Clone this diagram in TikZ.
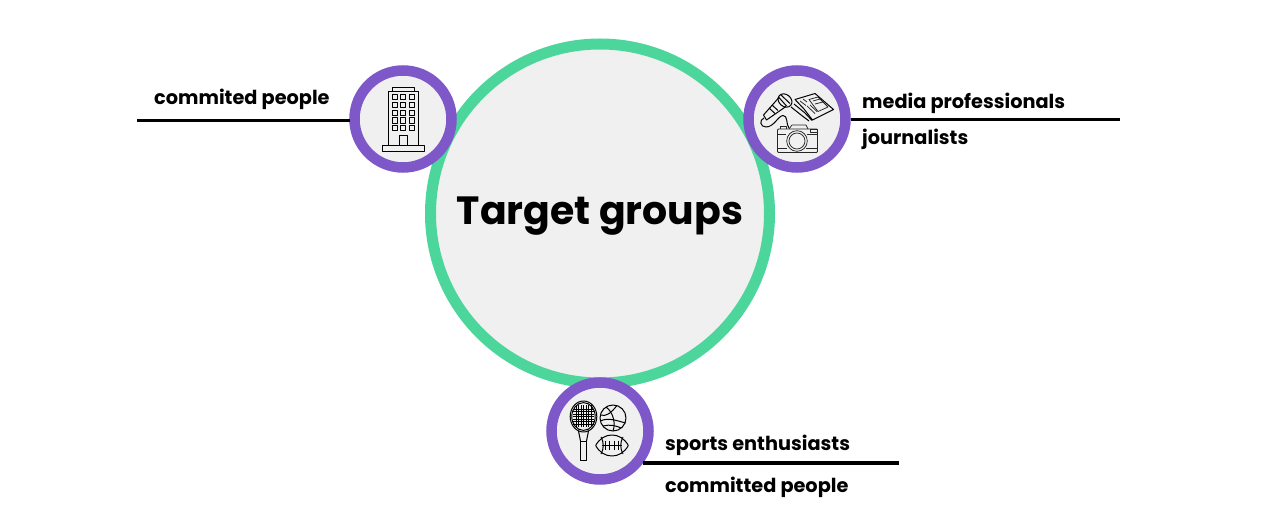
\documentclass[tikz,border=0pt]{standalone}
\usepackage{fontspec}
\setmainfont{Poppins}
\definecolor{mint}{HTML}{4CD69B}
\definecolor{violet}{HTML}{7E57C8}
\definecolor{pale}{HTML}{F0F0F0}
\usetikzlibrary{calc,positioning}
\tikzset{
  hub/.style={circle,draw=mint,fill=pale,line width=11pt,minimum size=339pt,inner sep=0pt,outer sep=0pt,font=\fontsize{39.4}{39.4}\selectfont\bfseries},
  badge/.style={circle,draw=violet,fill=pale,line width=10.5pt,minimum size=97pt,inner sep=0pt,outer sep=5pt},
  tag/.style={anchor=base west,inner sep=0pt,font=\fontsize{19.3}{19.3}\selectfont\bfseries},
  rule/.style={draw=black,line width=3.7pt},
  icon/.style={draw=black,line width=1pt,line join=round},
  fine/.style={draw=black!85,line width=0.75pt,line join=round},
}
\begin{document}
\begin{tikzpicture}[x=1pt,y=-1pt]
    \useasboundingbox (0,0) rectangle (1280,510);

    \node[hub] (target) at (600,213.5) {\raisebox{-11.5pt}[0pt][0pt]{Target groups}};

    \coordinate (leftend) at (137,120.5);
    \coordinate (rightend) at (1120,119.5);
    \coordinate (bottomend) at (899,463);

    \node[badge] (office) at (403,119) {};
    \node[badge] (media) at (797,119) {};
    \node[badge] (sports) at (600,431) {};

    \draw[rule] (leftend) -- (office.west |- leftend);
    \draw[rule] (media.east |- rightend) -- (rightend);
    \draw[rule] (sports.-36 |- bottomend) -- (bottomend);

    \node[tag] (commited) at (154,104.5) {commited people};
    \node[tag] (prof) at (862,108.5) {media professionals};
    \node[tag] (journ) at (862,144.5) {journalists};
    \node[tag] (enth) at (665,450) {sports enthusiasts};
    \node[tag] (committed) at (665,492) {committed people};

    % building
    \draw[icon] (392,91.5) rectangle (414,87.5);
    \draw[icon] (388,146) rectangle (418,91.5);
    \draw[icon] (382,146) rectangle (424,151.5);
    \draw[icon] (399,146) -- (399,135.5) -- (407,135.5) -- (407,146);
    \foreach \wx in {394.7,403.2,411.7}
      \foreach \wy in {96.8,104.7,112.7,120.6,128.4}
        \draw[icon] (\wx-2.6,\wy-2.6) rectangle (\wx+2.6,\wy+2.6);

    % microphone and newspaper
    \draw[icon,rotate around={-40:(785,100.5)}] (785,100.5) ellipse (7.5pt and 6pt);
    \draw[icon] (778.5,97) -- (786.5,106);
    \draw[icon] (781,95) -- (790,103.5);
    \draw[icon] (778.5,98) -- (763.5,115) -- (766.5,120) -- (786,106.5);
    \draw[icon] (769,108) -- (775,113.5) (772,105) -- (778,110.5);
    \draw[icon] (764,118) .. controls (759,120) and (760,127) .. (766,127) .. controls (774,127) and (778,116) .. (783,115.5) .. controls (788,115) and (786,125) .. (789,128);
    \draw[icon] (795,99.5) -- (815,93.5) -- (833.5,109.5) -- (812.5,120) -- (804,109) -- cycle;
    \draw[icon] (794,104) -- (805,113) -- (812,120.5);
    \draw[icon] (791,107) -- (803,116.5) -- (809,121);
    \draw[fine] (800,101) -- (806,105.5) (803,99) -- (807,102);
    \draw[fine] (809,99.5) -- (818,97) -- (828,107) -- (818,111.5) -- cycle;
    \draw[fine] (807,106) -- (815,113.5) (810,105) -- (817,111.5);
    \draw[fine] (813,101) -- (820,99) (815,104) -- (823,102);

    % camera
    \draw[fine,rounded corners=1pt] (777.5,129) rectangle (817.5,152.5);
    \draw[fine] (777.5,134) -- (786,134) (807,134) -- (817.5,134) (777.5,148.5) -- (787,148.5) (806,148.5) -- (817.5,148.5);
    \draw[fine] (780,129) -- (780,126.5) -- (786.5,126.5) -- (786.5,129);
    \draw[fine] (789,129) -- (792,125) -- (806,125) -- (808,129);
    \draw[fine] (810,129.5) rectangle (817,132.5);
    \draw[fine,fill=pale] (797,141) circle (10.3pt);
    \draw[fine] (797,141) circle (8pt);

    % racket
    \draw[icon] (583.5,416.5) ellipse (13.3pt and 15.5pt);
    \draw[icon] (583.5,416.5) ellipse (11.7pt and 13.9pt);
    \foreach \sx in {-7.5,-5,-2.5,0,2.5,5,7.5}
      \draw[icon,line width=0.8pt] (583.5+\sx,405.5) -- (583.5+\sx,427.5);
    \foreach \sy in {-7.5,-5,-2.5,0,2.5,5,7.5}
      \draw[icon,line width=0.8pt] (573,416.5+\sy) -- (594,416.5+\sy);
    \draw[icon] (578.5,431) -- (580.7,442) (588.5,431) -- (586.3,442);
    \draw[icon] (580.7,442) -- (580.7,460) -- (586.3,460) -- (586.3,442) -- cycle;

    % basketball
    \draw[icon] (613,418) circle (13pt);
    \draw[icon] (600.5,421) .. controls (608,417) and (618,421) .. (625.5,423);
    \draw[icon] (606,407) .. controls (613,412) and (616,423) .. (613,431);
    \draw[icon] (617,405.5) .. controls (611,413) and (606,417) .. (600.5,415);
    \draw[icon] (603,426) .. controls (610,424) and (617,426) .. (621,428);

    % football
    \draw[icon] (595.7,445.5) .. controls (603,431.5) and (621,431.5) .. (628.3,445.5) .. controls (621,459.5) and (603,459.5) .. (595.7,445.5) -- cycle;
    \draw[icon] (602,445.5) -- (622,445.5);
    \foreach \fx in {605,609.5,614,618.5}
      \draw[icon] (\fx,441.5) -- (\fx,449.5);
    \draw[icon] (601,437) .. controls (604,442) and (604,449) .. (601,454);
    \draw[icon] (623,437) .. controls (620,442) and (620,449) .. (623,454);
\end{tikzpicture}
\end{document}
